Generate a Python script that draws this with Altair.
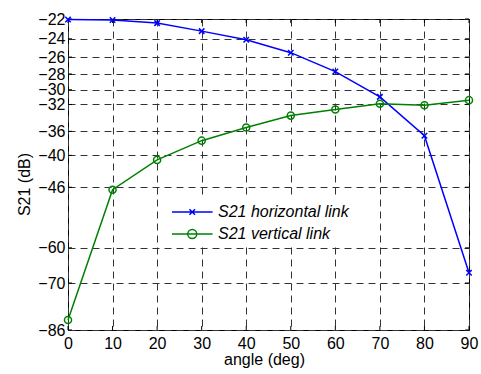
import altair as alt
import pandas as pd

angles = [0, 10, 20, 30, 40, 50, 60, 70, 80, 90]
s21_horizontal = [-22.05, -22.1, -22.4, -23.2, -24.1, -25.5, -27.7, -30.95, -36.7, -66.9]
s21_vertical = [-82.3, -46.5, -40.8, -37.5, -35.4, -33.6, -32.7, -31.9, -32.1, -31.4]
series_names = ["S21 horizontal link", "S21 vertical link"]
series_colors = ["#0000ff", "#008000"]
y_ticks = [-22, -24, -26, -28, -30, -32, -36, -40, -46, -60, -70, -86]
x_ticks = [0, 10, 20, 30, 40, 50, 60, 70, 80, 90]

rows = []
for a, h, v in zip(angles, s21_horizontal, s21_vertical):
    rows.append({"angle": a, "s21": h, "series": series_names[0]})
    rows.append({"angle": a, "s21": v, "series": series_names[1]})
df = pd.DataFrame(rows)

W, H = 401, 311
FONT = "Liberation Sans"
X_PATH = "M-1,-1L1,1M-1,1L1,-1"

xs = alt.Scale(domain=[0, 90], nice=False, zero=False)
ys = alt.Scale(type="log", domain=[-86, -22], nice=False, zero=False)
cs = alt.Scale(domain=series_names, range=series_colors)
legend_shapes = alt.Scale(domain=series_names, range=[
    "M-1,0L4.07,0M1.18,-0.35L1.88,0.35M1.18,0.35L1.88,-0.35",
    "M-1,0L4.07,0M0.97,0A0.56,0.56,0,1,1,2.09,0A0.56,0.56,0,1,1,0.97,0",
])

x_axis = alt.Axis(values=x_ticks, grid=True, gridDash=[7, 5], gridColor="#333333",
                  gridWidth=1, ticks=False, tickSize=0, domain=False,
                  labelFont=FONT, labelFontSize=16, labelColor="black", labelPadding=5,
                  labelFlush=False, labelOverlap=False, format="d",
                  title="angle (deg)", titleFont=FONT, titleFontSize=16,
                  titleFontWeight="normal", titleColor="black",
                  titleX=196, titleY=34, titleBaseline="alphabetic")
y_axis = alt.Axis(values=y_ticks, grid=True, gridDash=[7, 5], gridColor="#333333",
                  gridWidth=1, ticks=False, tickSize=0, domain=False,
                  labelFont=FONT, labelFontSize=16, labelColor="black", labelPadding=3,
                  labelFlush=False, labelOverlap=False, format="d",
                  title="S21 (dB)", titleFont=FONT, titleFontSize=16,
                  titleFontWeight="normal", titleColor="black",
                  titleX=-44, titleY=165, titleBaseline="middle")

legend = alt.Legend(orient="none", legendX=98, legendY=179, title=None,
                    fillColor="white", padding=5,
                    labelFont=FONT, labelFontSize=16, labelFontStyle="italic",
                    labelColor="black", labelOffset=29, rowPadding=5,
                    symbolSize=256, symbolStrokeWidth=1.5, symbolOpacity=1,
                    symbolFillColor="transparent")

base = alt.Chart(df)
XENC = alt.X("angle:Q", scale=xs, axis=x_axis)
YENC = alt.Y("s21:Q", scale=ys, axis=y_axis)


def series_layers(name, color, shape, size):
    sub = base.transform_filter(alt.datum.series == name)
    line = sub.mark_line(strokeWidth=1.5, color=color).encode(x=XENC, y=YENC)
    pts = sub.mark_point(filled=False, strokeWidth=1.5, opacity=1, size=size,
                         shape=shape, color=color).encode(x=XENC, y=YENC)
    return [line, pts]


layers_h = series_layers(series_names[0], series_colors[0], X_PATH, 30)
layers_v = series_layers(series_names[1], series_colors[1], "circle", 50)

legend_layer = base.mark_point(filled=False, opacity=0, size=256, strokeWidth=1.5).encode(
    x=XENC,
    y=YENC,
    color=alt.Color("series:N", scale=cs, legend=legend),
    shape=alt.Shape("series:N", scale=legend_shapes, legend=legend),
)

yt = pd.DataFrame({"s21": y_ticks})
xt = pd.DataFrame({"angle": x_ticks})
tick_left = alt.Chart(yt).mark_rule(color="black", strokeWidth=1).encode(
    y=YENC, x=alt.value(0), x2=alt.value(4))
tick_right = alt.Chart(yt).mark_rule(color="black", strokeWidth=1).encode(
    y=YENC, x=alt.value(W - 4), x2=alt.value(W))
tick_bottom = alt.Chart(xt).mark_rule(color="black", strokeWidth=1).encode(
    x=XENC, y=alt.value(H), y2=alt.value(H - 4))
tick_top = alt.Chart(xt).mark_rule(color="black", strokeWidth=1).encode(
    x=XENC, y=alt.value(0), y2=alt.value(4))

chart = alt.layer(tick_left, tick_right, tick_bottom, tick_top,
                  *layers_h, *layers_v, legend_layer).properties(
    width=W, height=H,
    autosize=alt.AutoSizeParams(type="none"),
    padding={"left": 68, "top": 19, "right": 12, "bottom": 44},
    background="white",
).configure_view(stroke="black", strokeWidth=1)

chart.save("out.html", embed_options={"renderer": "svg", "actions": False})
